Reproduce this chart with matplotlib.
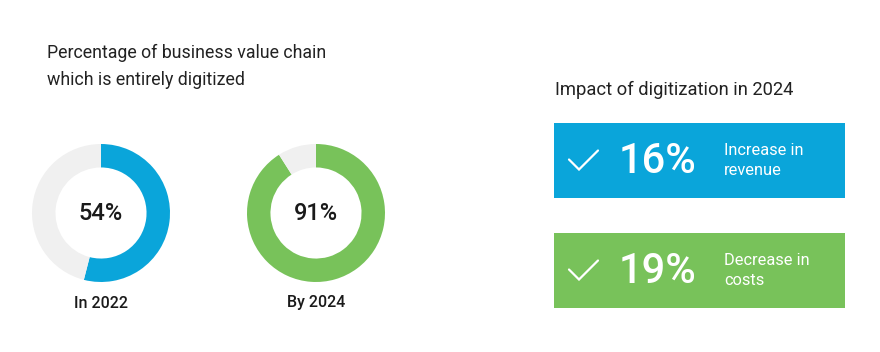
import matplotlib
matplotlib.use("Agg")
import matplotlib.pyplot as plt
from matplotlib.patches import Rectangle

plt.rcParams['font.family'] = ['Roboto', 'DejaVu Sans']

# donut data
donut_labels = ["In 2022", "By 2024"]
donut_values = [54, 91]
donut_colors = ["#0aa5da", "#78c25a"]
rest_color = "#f0f0f0"

# impact boxes
impact_values = ["16%", "19%"]
impact_texts = ["Increase in\nrevenue", "Decrease in\ncosts"]
impact_colors = ["#0aa5da", "#78c25a"]

W, H = 880, 352
fig = plt.figure(figsize=(W / 100, H / 100), dpi=100)
fig.patch.set_facecolor("white")

# overlay axes in pixel coords
ov = fig.add_axes([0, 0, 1, 1])
ov.set_xlim(0, W)
ov.set_ylim(H, 0)
ov.axis("off")

ov.text(47, 53, "Percentage of business value chain", fontsize=12.8,
        color="#222222", va="center", ha="left")
ov.text(47, 80, "which is entirely digitized", fontsize=12.8,
        color="#222222", va="center", ha="left")
ov.text(555, 90, "Impact of digitization in 2024", fontsize=13.2, color="#222222",
        va="center", ha="left")

# donuts
centers_x = [101, 316]
cy, r = 213, 69
for i, (lab, val, col) in enumerate(zip(donut_labels, donut_values, donut_colors)):
    cx = centers_x[i]
    ax = fig.add_axes([(cx - r) / W, 1 - (cy + r) / H, 2 * r / W, 2 * r / H])
    ax.pie([val, 100 - val], colors=[col, rest_color], startangle=90,
           counterclock=False, radius=1,
           wedgeprops=dict(width=0.34, edgecolor="none"))
    ax.set_xlim(-1, 1)
    ax.set_ylim(-1, 1)
    ax.text(0, 0, f"{val}%", ha="center", va="center", fontsize=17,
            fontweight="medium", color="#1a1a1a")
    ov.text(cx, 303, lab, ha="center", va="center", fontsize=11.5,
            fontweight="medium", color="#1a1a1a")

# impact boxes
box_top = [123, 233]
for i, (v, t, col) in enumerate(zip(impact_values, impact_texts, impact_colors)):
    y0 = box_top[i]
    ov.add_patch(Rectangle((554, y0), 291, 75, facecolor=col, edgecolor="none"))
    yc = y0 + 37.5
    ov.plot([569, 579, 598], [yc - 1, yc + 9, yc - 10], color="white", lw=1.6,
            solid_capstyle="round", solid_joinstyle="miter")
    ov.text(619, yc + 1, v, ha="left", va="center", fontsize=30, color="white",
            fontweight="medium")
    ov.text(724, yc, t, ha="left", va="center", fontsize=11.8, color="white",
            linespacing=1.4)

fig.savefig("out.png", dpi=100, facecolor="white")
